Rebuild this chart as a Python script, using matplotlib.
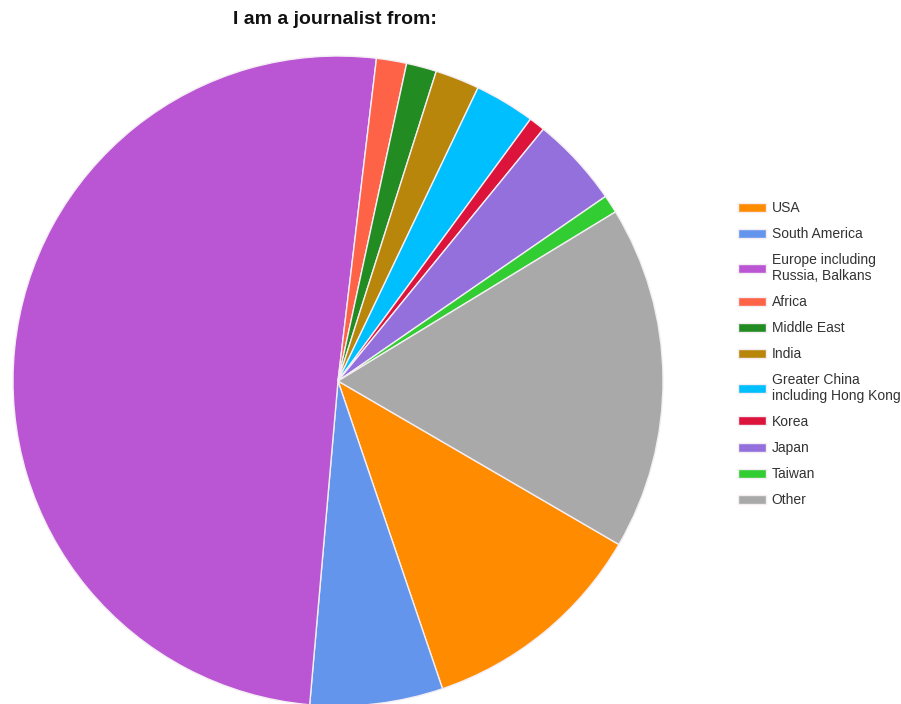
import matplotlib.pyplot as plt

plt.rcParams['font.family'] = ['Liberation Sans', 'DejaVu Sans']

# share of respondents per region, in percent
regions = ['USA', 'South America', 'Europe including\nRussia, Balkans', 'Africa',
           'Middle East', 'India', 'Greater China\nincluding Hong Kong', 'Korea',
           'Japan', 'Taiwan', 'Other']
shares = [11.4, 6.6, 50.5, 1.5, 1.5, 2.2, 3.0, 0.8, 4.5, 0.9, 17.1]
colors = ['#FF8C00', '#6495ED', '#BA55D3', '#FF6347', '#228B22', '#B8860B',
          '#00BFFF', '#DC143C', '#9370DB', '#32CD32', '#A9A9A9']

W, H = 901, 704
fig = plt.figure(figsize=(W / 100, H / 100), dpi=100)
ax = fig.add_axes([13 / W, (H - 706) / H, 650 / W, 650 / H])

wedges, _ = ax.pie(shares, colors=colors, startangle=-30.2, counterclock=False,
                   wedgeprops=dict(edgecolor='#f4eef4', linewidth=1.0))
ax.set_xlim(-1, 1)
ax.set_ylim(-1, 1)

fig.text(335 / W, 1 - 24 / H, 'I am a journalist from:', ha='center', va='baseline',
         fontsize=14, fontweight='bold', color='#111111')

leg = fig.legend(wedges, regions, loc='upper left',
                 bbox_to_anchor=(738 / W, 1 - 201 / H), frameon=False,
                 fontsize=10, handlelength=2.0, handleheight=0.62,
                 handletextpad=0.43, labelspacing=0.87, borderpad=0,
                 borderaxespad=0, labelcolor='#333333')
for t in leg.get_texts():
    t.set_linespacing(1.15)

fig.savefig('out.png', dpi=100)
